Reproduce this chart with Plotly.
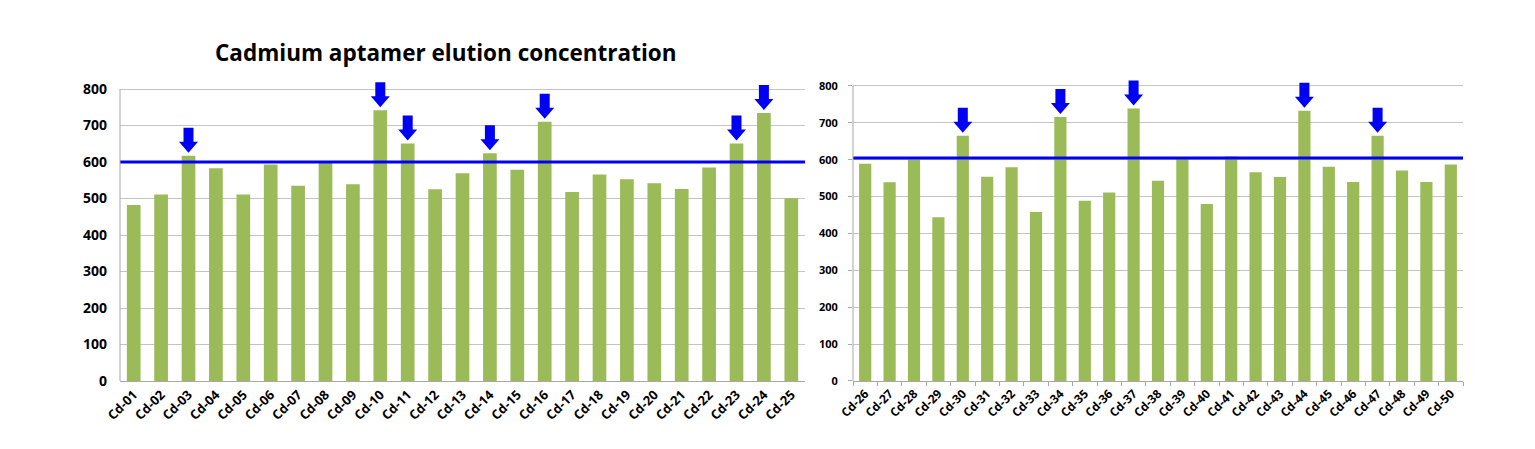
import plotly.graph_objects as go

# sample names and measured concentrations
samples_a = ['Cd-%02d' % i for i in range(1, 26)]
values_a = [482, 511, 617, 583, 511, 593, 535, 599, 539, 742,
            651, 525, 569, 624, 579, 710, 518, 566, 553, 542,
            526, 585, 651, 734, 501]
samples_b = ['Cd-%02d' % i for i in range(26, 51)]
values_b = [589, 539, 600, 444, 665, 554, 580, 458, 716, 489,
            511, 739, 543, 602, 480, 609, 566, 553, 733, 581,
            540, 665, 571, 540, 587]
threshold_a = 600
threshold_b = 605
picked_a = ['Cd-03', 'Cd-10', 'Cd-11', 'Cd-14', 'Cd-16', 'Cd-23', 'Cd-24']
picked_b = ['Cd-30', 'Cd-34', 'Cd-37', 'Cd-44', 'Cd-47']
y_ticks = [0, 100, 200, 300, 400, 500, 600, 700, 800]

W, H = 1535, 449
OFF = 8  # page body margin
YMAX = 830
GREEN = '#9BBB59'
BLUE = '#0000F5'
GRID = '#C4C4C4'
AXIS = '#A8A8A8'
FONT = 'Open Sans'

# pixel frames of the two panels (left, right, zero line, 800 line)
panels = [
    dict(x0=120 - OFF, x1=805 - OFF, zero=381 - OFF, top800=89 - OFF, xa='x', ya='y'),
    dict(x0=853 - OFF, x1=1463 - OFF, zero=381 - OFF, top800=86 - OFF, xa='x2', ya='y2'),
]

fig = go.Figure()


def arrow(xi, val, ppx, ppy):
    # block arrow pointing down at bar top, sizes in pixels
    gap, head, shaft, hw, sw = 3, 11, 14, 9.5, 5
    tip = val + gap / ppy
    hb = tip + head / ppy
    top = hb + shaft / ppy
    xs = [xi, xi - hw / ppx, xi - sw / ppx, xi - sw / ppx, xi + sw / ppx, xi + sw / ppx, xi + hw / ppx, xi]
    ys = [tip, hb, hb, top, top, hb, hb, tip]
    return xs, ys


for k, (names, vals, thr, picked) in enumerate([(samples_a, values_a, threshold_a, picked_a),
                                                (samples_b, values_b, threshold_b, picked_b)]):
    p = panels[k]
    ppy = (p['zero'] - p['top800']) / 800.0
    ppx = (p['x1'] - p['x0']) / len(names)
    xs = list(range(len(names)))
    fig.add_trace(go.Bar(x=xs, y=vals, width=0.5, marker_color=GREEN, marker_line_width=0,
                         xaxis=p['xa'], yaxis=p['ya'], showlegend=False))
    fig.add_trace(go.Scatter(x=[-0.5, len(names) - 0.5], y=[thr, thr], mode='lines',
                             line=dict(color=BLUE, width=3), xaxis=p['xa'], yaxis=p['ya'],
                             showlegend=False))
    for nm in picked:
        i = names.index(nm)
        ax, ay = arrow(i, vals[i], ppx, ppy)
        fig.add_trace(go.Scatter(x=ax, y=ay, mode='lines', fill='toself', fillcolor=BLUE,
                                 line=dict(width=0, color=BLUE), xaxis=p['xa'], yaxis=p['ya'],
                                 showlegend=False))
    # y axis line only up to 800
    ytop_px = p['zero'] - 800 * ppy
    fig.add_shape(type='line', xref='paper', yref='paper',
                  x0=p['x0'] / W, x1=p['x0'] / W,
                  y0=(H - p['zero']) / H, y1=(H - ytop_px) / H,
                  line=dict(color=AXIS, width=1))

for k, names in enumerate([samples_a, samples_b]):
    p = panels[k]
    ppy = (p['zero'] - p['top800']) / 800.0
    top_px = p['zero'] - YMAX * ppy
    xkey = 'xaxis' if k == 0 else 'xaxis2'
    ykey = 'yaxis' if k == 0 else 'yaxis2'
    xax = dict(domain=[p['x0'] / W, p['x1'] / W], range=[-0.5, len(names) - 0.5],
               tickvals=list(range(len(names))), ticktext=names, tickangle=-45,
               tickfont=dict(family=FONT, size=13 if k == 0 else 12, color='#000000', weight='bold'),
               showgrid=False, zeroline=False, showline=True, linecolor=AXIS, linewidth=1,
               anchor=p['ya'], ticks='', automargin=False, fixedrange=True)
    yax = dict(domain=[(H - p['zero']) / H, (H - top_px) / H], range=[0, YMAX],
               tickvals=y_ticks, showgrid=True, gridcolor=GRID, gridwidth=1,
               zeroline=False, showline=False, anchor=p['xa'], automargin=False,
               tickfont=dict(family=FONT, size=14 if k == 0 else 11, color='#000000', weight='bold'),
               ticklabelstandoff=12 if k == 0 else 8, fixedrange=True)
    if k == 1:
        xax['minor'] = dict(tickvals=[i - 0.5 for i in range(len(names) + 1)], ticks='outside',
                            ticklen=4, tickcolor=AXIS)
        yax['ticks'] = 'outside'
        yax['ticklen'] = 4
        yax['tickcolor'] = AXIS
    fig.update_layout({xkey: xax, ykey: yax})

fig.add_annotation(text='<b>Cadmium aptamer elution concentration</b>', xref='paper', yref='paper',
                   x=(446 - OFF) / W, y=(H - 52 + OFF) / H, xanchor='center', yanchor='middle',
                   showarrow=False, font=dict(family=FONT, size=22.5, color='#000000'))

fig.update_layout(width=W, height=H, margin=dict(l=0, r=0, t=0, b=0),
                  plot_bgcolor='white', paper_bgcolor='white', bargap=0.5)

fig.write_html('out.html')
